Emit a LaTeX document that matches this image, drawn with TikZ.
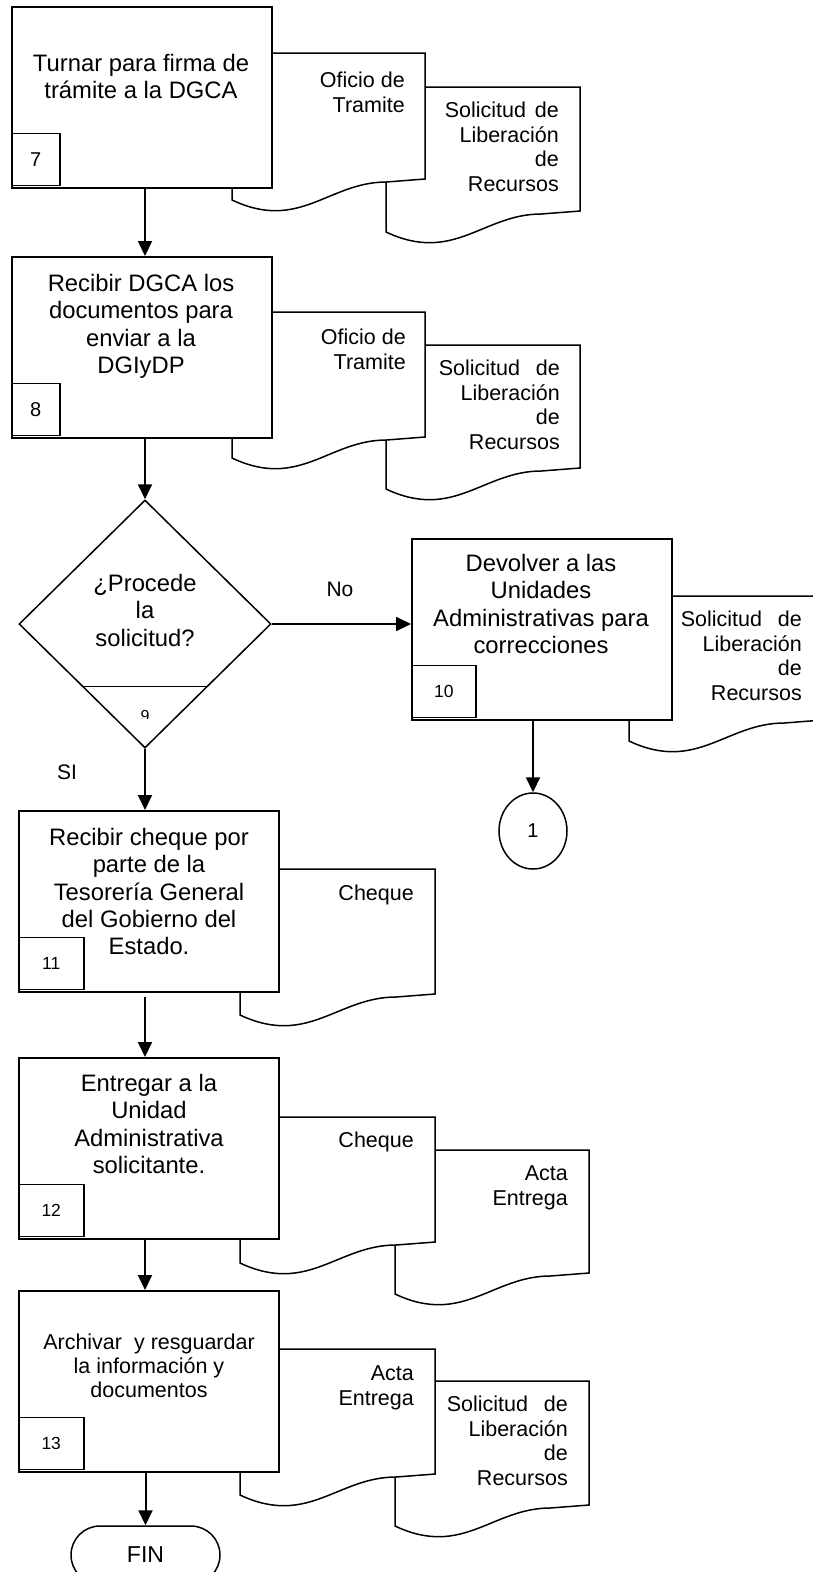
\documentclass[tikz,border=0pt]{standalone}
\usepackage{fontspec}
\setmainfont{Liberation Sans}
\usetikzlibrary{arrows.meta,shapes.geometric,calc}

% document sheet with wavy lower edge: left x, top y, width, y of lower-left corner
\newcommand\docsheet[4]{%
  \draw[outline] (#1,#2) -- ({#1+#3},#2) -- ({#1+#3},{#4-21})
    -- ({#1+0.8*#3},{#4-18})
    .. controls ({#1+0.5*#3},{#4-18}) and ({#1+0.35*#3},{#4+32}) .. (#1,#4) -- cycle;}
\newcommand\lnstrut[1]{\rule{0pt}{#1pt}}

\tikzset{
  outline/.style={draw=black, line width=1.5pt, fill=white},
  pbox/.style={outline, anchor=north west, minimum width=260pt, minimum height=181pt, inner sep=0pt},
  nbox/.style={outline, anchor=south west, minimum height=52pt, inner sep=0pt},
  bigtxt/.style={font=\fontsize{23.8}{27.3}\selectfont, align=center, anchor=north, inner sep=0pt},
  midtxt/.style={font=\fontsize{21.5}{24}\selectfont, align=center, anchor=north, inner sep=0pt},
  doctxt/.style={font=\fontsize{21.5}{24.5}\selectfont, align=right, anchor=north east, inner sep=0pt},
  lbl/.style={font=\fontsize{21}{24}\selectfont, inner sep=0pt},
  numA/.style={font=\fontsize{20}{22}\selectfont},
  numB/.style={font=\fontsize{17.5}{19}\selectfont},
  flow/.style={line width=2pt, -{Triangle[length=15pt,width=14pt]}},
}

\begin{document}
\begin{tikzpicture}[x=1pt,y=-1pt]
\fill[white] (0,0) rectangle (812,1572);
\useasboundingbox (0,0) rectangle (812,1572);
\coordinate (ax) at (145,0);

% step 7
\docsheet{386}{87}{194}{232}
\docsheet{232}{53}{193}{200}
\node[pbox] (b7) at (11,6) {};
\node[nbox, numA, minimum width=48pt] (n7) at (11,186) {7};
\node[bigtxt] (t7) at (141,49.4) {\lnstrut{22}Turnar para firma de\\trámite a la DGCA};
\node[doctxt] (d7a) at (405,67.7) {\lnstrut{20}Oficio de\\Tramite};
\node[doctxt] (d7b) at (559,97.7) {\lnstrut{20}\makebox[114pt][s]{Solicitud de}\\Liberación\\de\\Recursos};

% step 8
\docsheet{386}{345}{194}{489}
\docsheet{232}{312}{193}{458}
\node[pbox] (b8) at (11,256) {};
\node[nbox, numA, minimum width=48pt] (n8) at (11,436) {8};
\node[bigtxt] (t8) at (141,269.4) {\lnstrut{22}Recibir DGCA los\\documentos para\\enviar a la\\DGIyDP};
\node[doctxt] (d8a) at (406,324.7) {\lnstrut{20}Oficio de\\Tramite};
\node[doctxt] (d8b) at (560,355.7) {\lnstrut{20}\makebox[121pt][s]{Solicitud de}\\Liberación\\de\\Recursos};

% decision 9
\node[outline, diamond, minimum width=252pt, minimum height=248pt, inner sep=0pt] (dec) at (145,624) {};
\draw[line width=1.5pt] ($(dec.west)!.5!(dec.south)$) -- ($(dec.east)!.5!(dec.south)$);
\node[bigtxt] (tdec) at (145,569.4) {\lnstrut{22}¿Procede\\la\\solicitud?};
\begin{scope}
  \clip (125,700) rectangle (165,718);
  \node[font=\fontsize{16}{18}\selectfont, inner sep=0pt] (n9) at (145,716) {9};
\end{scope}

% step 10
\docsheet{629}{596}{194}{741}
\node[pbox] (b10) at (411,538) {};
\node[nbox, numB, minimum width=64pt] (n10) at (411,718) {10};
\node[bigtxt] (t10) at (541,549.4) {\lnstrut{22}Devolver a las\\Unidades\\Administrativas para\\correcciones};
\node[doctxt] (d10) at (802,606.7) {\lnstrut{20}\makebox[121pt][s]{Solicitud de}\\Liberación\\de\\Recursos};
\node[outline, ellipse, minimum width=68pt, minimum height=76pt, inner sep=0pt,
      font=\fontsize{20}{22}\selectfont] (c1) at (533,831) {1};

% step 11
\docsheet{240}{869}{195}{1015}
\node[pbox] (b11) at (18,810) {};
\node[nbox, numB, minimum width=65pt] (n11) at (18,990) {11};
\node[bigtxt] (t11) at (149,823.4) {\lnstrut{22}Recibir cheque por\\parte de la\\Tesorería General\\del Gobierno del\\Estado.};
\node[doctxt] (d11) at (414,880.7) {\lnstrut{20}Cheque};

% step 12
\docsheet{395}{1150}{194}{1294}
\docsheet{240}{1117}{195}{1263}
\node[pbox] (b12) at (18,1057) {};
\node[nbox, numB, minimum width=65pt] (n12) at (18,1237) {12};
\node[bigtxt] (t12) at (149,1069.4) {\lnstrut{22}Entregar a la\\Unidad\\Administrativa\\solicitante.};
\node[doctxt] (d12a) at (414,1127.7) {\lnstrut{20}Cheque};
\node[doctxt] (d12b) at (568,1160.7) {\lnstrut{20}Acta\\Entrega};

% step 13
\docsheet{395}{1381}{194}{1526}
\docsheet{240}{1349}{195}{1495}
\node[pbox] (b13) at (18,1290) {};
\node[nbox, numB, minimum width=65pt] (n13) at (18,1470) {13};
\node[midtxt] (t13) at (149,1329.7) {\lnstrut{20}Archivar\ \ y resguardar\\la información y\\documentos};
\node[doctxt] (d13a) at (414,1360.7) {\lnstrut{20}Acta\\Entrega};
\node[doctxt] (d13b) at (568,1391.7) {\lnstrut{20}\makebox[121pt][s]{Solicitud de}\\Liberación\\de\\Recursos};

% end terminal
\node[outline, rounded corners=29pt, minimum width=149pt, minimum height=58pt, inner sep=0pt,
      font=\fontsize{23}{25}\selectfont] (fin) at (145.5,1555) {FIN};

% labels
\node[lbl] (lno) at (340,589) {No};
\node[lbl] (lsi) at (67,772) {SI};

% connectors
\draw[flow] (b7.south -| ax) -- (b8.north -| ax);
\draw[flow] (b8.south -| ax) -- (dec.north);
\draw[flow] (dec.east) -- (b10.west |- dec.east);
\draw[flow] (b10.south -| c1.north) -- (c1.north);
\draw[flow] (dec.south) -- (b11.north -| dec.south);
\draw[flow] ([yshift=-4pt]b11.south -| ax) -- (b12.north -| ax);
\draw[flow] (b12.south -| ax) -- (b13.north -| ax);
\draw[flow] (b13.south -| fin.north) -- (fin.north);
\end{tikzpicture}
\end{document}
